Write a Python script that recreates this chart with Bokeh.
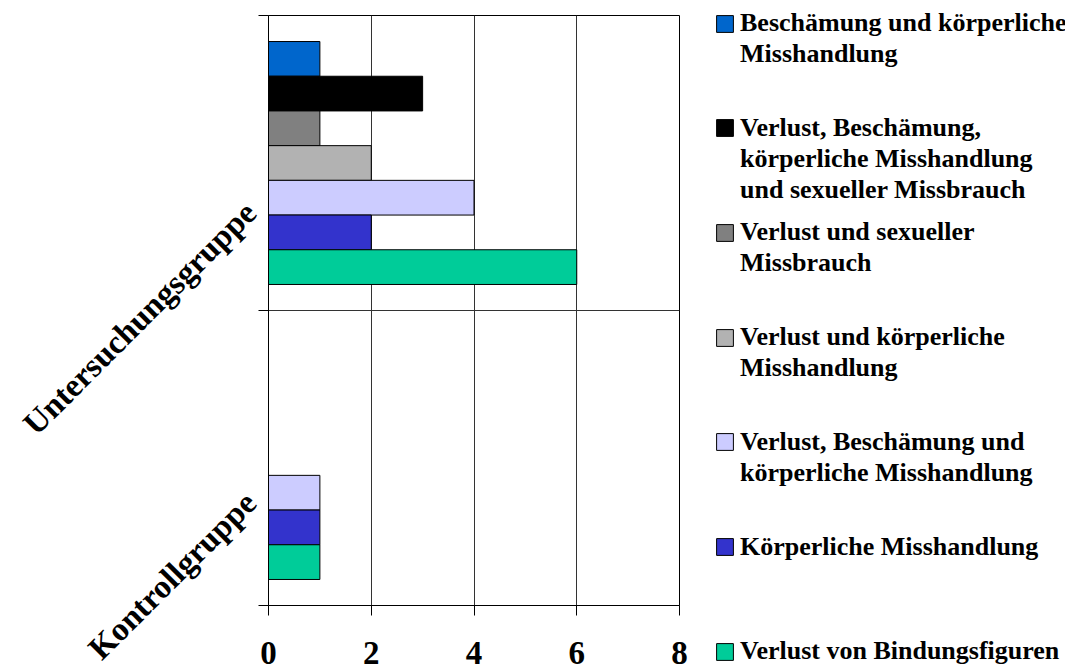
from math import pi

from bokeh.embed import file_html
from bokeh.layouts import row
from bokeh.models import ColumnDataSource, FixedTicker, Legend, LegendItem, Range1d
from bokeh.plotting import figure
from bokeh.resources import INLINE

# Groups (top to bottom) and the seven kinds of trauma experience
groups = ["Untersuchungsgruppe", "Kontrollgruppe"]
series_labels = [
    "Beschämung und körperliche\nMisshandlung",
    "Verlust, Beschämung,\nkörperliche Misshandlung\nund sexueller Missbrauch",
    "Verlust und sexueller\nMissbrauch",
    "Verlust und körperliche\nMisshandlung",
    "Verlust, Beschämung und\nkörperliche Misshandlung",
    "Körperliche Misshandlung",
    "Verlust von Bindungsfiguren",
]
untersuchungsgruppe = [1, 3, 1, 2, 4, 2, 6]
kontrollgruppe = [0, 0, 0, 0, 1, 1, 1]
series_colors = ["#0066CC", "#000000", "#808080", "#B2B2B2", "#CCCCFF", "#3333CC", "#00CC99"]
x_ticks = [0, 2, 4, 6, 8]

values_by_group = [untersuchungsgruppe, kontrollgruppe]

SERIF = "Liberation Serif"
H = 666
n_series = len(series_labels)
n_groups = len(groups)
bar_h = 1.0 / (n_series + 1.5)          # 150 % gap between groups
group_centers = [n_groups - g - 0.5 for g in range(n_groups)]
label_shift = 0.15                      # rotated group names sit a little below the group centre
label_pos = [c - label_shift for c in group_centers]

# ---------------------------------------------------------------- bar chart
p = figure(
    width=700, height=H,
    x_range=Range1d(x_ticks[0], x_ticks[-1]),
    y_range=Range1d(0, n_groups),
    output_backend="svg", toolbar_location=None,
    min_border_left=268, min_border_right=21,
    min_border_top=15, min_border_bottom=61,
)
p.frame_align = False
p.background_fill_color = "white"
p.border_fill_color = "white"
p.outline_line_color = "#000000"
p.outline_line_width = 1

# value axis
p.xaxis.ticker = FixedTicker(ticks=x_ticks)
p.xaxis.axis_line_color = "#000000"
p.xaxis.major_tick_line_color = "#000000"
p.xaxis.major_tick_out = 10
p.xaxis.major_tick_in = 0
p.xaxis.minor_tick_line_color = None
p.xaxis.major_label_text_font = SERIF
p.xaxis.major_label_text_font_style = "bold"
p.xaxis.major_label_text_font_size = "33px"
p.xaxis.major_label_text_color = "#000000"
p.xaxis.major_label_standoff = 26

# category axis: tick marks at the group boundaries, rotated group names
boundaries = list(range(n_groups + 1))
p.yaxis.ticker = FixedTicker(ticks=label_pos, minor_ticks=boundaries)
p.yaxis.major_label_overrides = {pos: name for pos, name in zip(label_pos, groups)}
p.yaxis.major_label_orientation = pi / 4
p.yaxis.major_label_text_font = SERIF
p.yaxis.major_label_text_font_style = "bold"
p.yaxis.major_label_text_font_size = "33px"
p.yaxis.major_label_text_color = "#000000"
p.yaxis.major_label_standoff = 8
p.yaxis.axis_line_color = "#000000"
p.yaxis.major_tick_out = 0
p.yaxis.major_tick_in = 0
p.yaxis.minor_tick_line_color = "#000000"
p.yaxis.minor_tick_out = 10
p.yaxis.minor_tick_in = 0

p.xgrid.ticker = FixedTicker(ticks=x_ticks)
p.xgrid.grid_line_color = "#333333"
p.xgrid.grid_line_width = 1
p.ygrid.ticker = FixedTicker(ticks=boundaries)
p.ygrid.grid_line_color = "#333333"
p.ygrid.grid_line_width = 1

sources = []
for i, color in enumerate(series_colors):
    ys, rights = [], []
    for g, vals in enumerate(values_by_group):
        if vals[i] > 0:
            ys.append(group_centers[g] + ((n_series - 1) / 2 - i) * bar_h)
            rights.append(vals[i])
    src = ColumnDataSource(dict(y=ys, right=rights))
    sources.append(src)
    p.hbar(y="y", left=0, right="right", height=bar_h, source=src,
           fill_color=color, line_color="#000000", line_width=1)

# ---------------------------------------------------------------- legend panel
# The legend lives in its own canvas; its ranges lie left of every bar, so the
# series renderers here only supply the legend swatches.
lg = figure(
    width=365, height=H, x_range=Range1d(-2, -1), y_range=Range1d(0, n_groups),
    output_backend="svg", toolbar_location=None, min_border=0,
)
lg.frame_align = False
lg.axis.visible = False
lg.grid.grid_line_color = None
lg.outline_line_color = None
lg.background_fill_color = "white"
lg.border_fill_color = "white"

# an invisible swatch for the continuation lines of wrapped entries
blank = lg.hbar(y="y", left=0, right="right", height=bar_h, source=sources[0],
                fill_alpha=0, line_alpha=0)

LINE_H = 31                 # height of one legend text line
ENTRY_STEP = 104.7          # distance between consecutive entries
FIRST_CENTER = 23           # centre of the first swatch, from the top
GLYPH_X = 14                # swatch area left edge inside the legend panel

for i, (label, color) in enumerate(zip(series_labels, series_colors)):
    swatch = lg.hbar(y="y", left=0, right="right", height=bar_h, source=sources[i],
                     fill_color=color, line_color="#000000", line_width=1)
    lines = label.split("\n")
    items = [LegendItem(label=lines[0], renderers=[swatch])]
    items += [LegendItem(label=ln, renderers=[blank]) for ln in lines[1:]]
    top = FIRST_CENTER + i * ENTRY_STEP - LINE_H / 2
    bottom = top + LINE_H * len(lines)
    lg.add_layout(Legend(
        items=items, location=(GLYPH_X, H - bottom),
        label_text_font=SERIF, label_text_font_style="bold",
        label_text_font_size="26px", label_text_color="#000000",
        label_height=LINE_H, glyph_width=21, glyph_height=21, label_standoff=5,
        spacing=0, padding=0, margin=0,
        border_line_alpha=0, background_fill_alpha=0,
    ), "center")

layout = row(p, lg, spacing=0)
open("out.html", "w").write(file_html(layout, INLINE))
